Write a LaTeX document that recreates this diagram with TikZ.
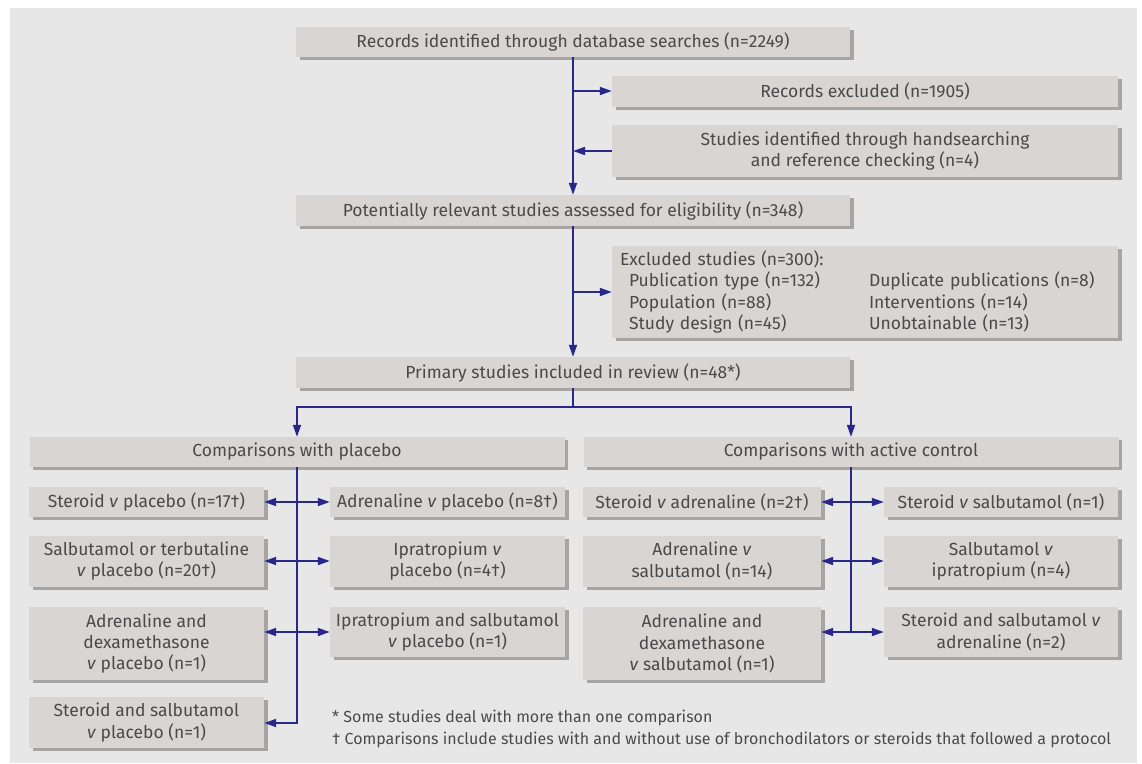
\documentclass[tikz,border=0pt]{standalone}
\usepackage{fontspec}
\setmainfont{Fira Sans}
\usetikzlibrary{arrows.meta,calc,shadows}
\definecolor{bg}{HTML}{E7E7E7}
\definecolor{boxc}{HTML}{D9D5D2}
\definecolor{shad}{HTML}{A8A4A2}
\definecolor{txt}{HTML}{4A4A4A}
\definecolor{arr}{HTML}{28288A}
\begin{document}
\begin{tikzpicture}[x=1pt,y=-1pt,
  bx/.style={fill=boxc, text=txt, inner sep=0pt, align=center,
    font=\fontsize{17.5}{21.3}\selectfont,
    general shadow={fill=shad, shadow xshift=3.5pt, shadow yshift=-3pt}},
  conn/.style={draw=arr, line width=1.8pt, arrows={-}},
  tip/.style={-{Triangle[length=12pt,width=8pt]}},
  tips/.style={{Triangle[length=12pt,width=8pt]}-{Triangle[length=12pt,width=8pt]}}
]
\useasboundingbox (0,0) rectangle (1142,763);
\fill[bg] (10,8) rectangle (1137,763);

% top section
\node[bx, minimum width=554pt, minimum height=30pt] (top) at (573,42) {Records identified through database searches (n=2249)};
\node[bx, minimum width=506pt, minimum height=31pt] (excl1) at (865,91) {Records excluded (n=1905)};
\node[bx, minimum width=506pt, minimum height=52pt] (hand) at (865,151) {Studies identified through handsearching\\and reference checking (n=4)};
\node[bx, minimum width=554pt, minimum height=31pt] (pot) at (573,210.5) {Potentially relevant studies assessed for eligibility (n=348)};
\node[bx, minimum width=506pt, minimum height=92pt, text width=490pt, align=left, inner xsep=8pt] (excl2) at (865,292) {Excluded studies (n=300):\\
\hspace*{9pt}\makebox[240pt][l]{Publication type (n=132)}Duplicate publications (n=8)\\
\hspace*{9pt}\makebox[240pt][l]{Population (n=88)}Interventions (n=14)\\
\hspace*{9pt}\makebox[240pt][l]{Study design (n=45)}Unobtainable (n=13)};
\node[bx, minimum width=554pt, minimum height=31pt] (prim) at (573,372.5) {Primary studies included in review (n=48*)};

% second level
\node[bx, minimum width=535pt, minimum height=30pt] (plac) at (297,452) {Comparisons with placebo};
\node[bx, minimum width=535pt, minimum height=30pt] (act) at (851,452) {Comparisons with active control};

% placebo column
\node[bx, minimum width=235pt, minimum height=30pt] (pl1) at (146.5,502) {Steroid \textit{v} placebo (n=17†)};
\node[bx, minimum width=235pt, minimum height=51pt] (pl2) at (146.5,561) {Salbutamol or terbutaline\\\textit{v} placebo (n=20†)};
\node[bx, minimum width=235pt, minimum height=73pt] (pl3) at (146.5,643.5) {Adrenaline and\\dexamethasone\\\textit{v} placebo (n=1)};
\node[bx, minimum width=235pt, minimum height=51pt] (pl4) at (146.5,722.5) {Steroid and salbutamol\\\textit{v} placebo (n=1)};
\node[bx, minimum width=235pt, minimum height=30pt] (pr1) at (447.5,502) {Adrenaline \textit{v} placebo (n=8†)};
\node[bx, minimum width=235pt, minimum height=51pt] (pr2) at (447.5,561) {Ipratropium \textit{v}\\placebo (n=4†)};
\node[bx, minimum width=235pt, minimum height=50pt] (pr3) at (447.5,632) {Ipratropium and salbutamol\\\textit{v} placebo (n=1)};

% active column
\node[bx, minimum width=238pt, minimum height=30pt] (al1) at (702,502) {Steroid \textit{v} adrenaline (n=2†)};
\node[bx, minimum width=238pt, minimum height=51pt] (al2) at (702,561) {Adrenaline \textit{v}\\salbutamol (n=14)};
\node[bx, minimum width=238pt, minimum height=73pt] (al3) at (702,643.5) {Adrenaline and\\dexamethasone\\\textit{v} salbutamol (n=1)};
\node[bx, minimum width=234pt, minimum height=30pt] (ar1) at (1001,502) {Steroid \textit{v} salbutamol (n=1)};
\node[bx, minimum width=234pt, minimum height=51pt] (ar2) at (1001,561) {Salbutamol \textit{v}\\ipratropium (n=4)};
\node[bx, minimum width=234pt, minimum height=50pt] (ar3) at (1001,632) {Steroid and salbutamol \textit{v}\\adrenaline (n=2)};

% footnotes
\node[text=txt, anchor=west, align=left, inner sep=0pt, font=\fontsize{16}{22}\selectfont] (fn) at (332,729) {* Some studies deal with more than one comparison\\† Comparisons include studies with and without use of bronchodilators or steroids that followed a protocol};

% connectors: top section
\draw[conn,tip] (top.south) -- (pot.north);
\draw[conn,tip] (top.south |- excl1.west) -- (excl1.west);
\draw[conn,tip] (hand.west) -- (top.south |- hand.west);
\draw[conn,tip] (pot.south) -- (prim.north);
\draw[conn,tip] (pot.south |- excl2.west) -- (excl2.west);
\coordinate (split) at ($(prim.south)+(0,19)$);
\draw[conn] (prim.south) -- (split);
\draw[conn,tip] (split) -| (plac.north);
\draw[conn,tip] (split) -| (act.north);

% placebo connectors
\draw[conn,tip] (plac.south) |- (pl4.east |- 0,723);
\draw[conn,tips] (pl1.east) -- (pr1.west);
\draw[conn,tips] (pl2.east) -- (pr2.west);
\draw[conn,tips] (pl3.east |- pr3.west) -- (pr3.west);

% active connectors
\draw[conn] (act.south) -- (act.south |- ar3.west);
\draw[conn,tips] (al1.east) -- (ar1.west);
\draw[conn,tips] (al2.east) -- (ar2.west);
\draw[conn,tips] (al3.east |- ar3.west) -- (ar3.west);
\end{tikzpicture}
\end{document}
